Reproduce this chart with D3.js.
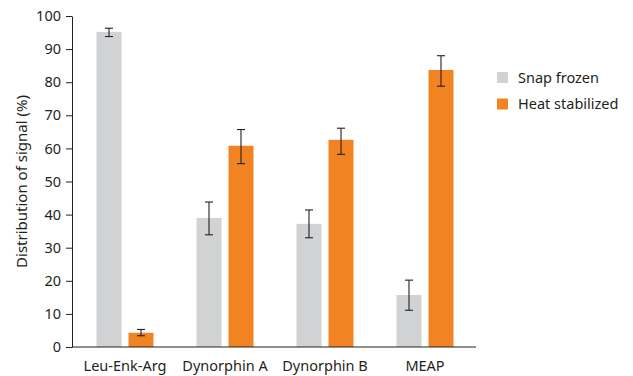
<!DOCTYPE html>
<html>
<head>
<meta charset="utf-8">
<script src="https://cdn.jsdelivr.net/npm/d3@7"></script>
<style>
  body { margin: 0; background: #fff; }
  svg text { font-family: "Noto Sans", sans-serif; fill: #231f20; }
</style>
</head>
<body>
<svg id="chart" width="633" height="376"></svg>
<script>
// peptides on the x axis
var categories = ["Leu-Enk-Arg", "Dynorphin A", "Dynorphin B", "MEAP"];
var seriesNames = ["Snap frozen", "Heat stabilized"];
// mean values (%)
var snapFrozen = [95.2, 39.0, 37.2, 15.7];
var heatStabilized = [4.3, 60.8, 62.6, 83.7];
// error bar ends (low, high)
var snapLow = [93.8, 33.9, 33.0, 11.1];
var snapHigh = [96.3, 43.8, 41.4, 20.2];
var heatLow = [3.4, 55.4, 58.2, 78.8];
var heatHigh = [5.3, 65.7, 66.1, 88.0];
var yTicks = [0, 10, 20, 30, 40, 50, 60, 70, 80, 90, 100];
var colors = ["#d1d2d4", "#f28322"];

const svg = d3.select("#chart")
const axisLeft = 72, axisRight = 476, plotTop = 16, plotBottom = 347

const x = d3.scaleBand()
  .domain(categories)
  .range([75, 475])
  .paddingInner(0)
  .paddingOuter(0)
const xSub = d3.scaleBand()
  .domain(seriesNames)
  .range([0, 57])
  .paddingInner(7 / 32)
const y = d3.scaleLinear()
  .domain([0, 100])
  .range([plotBottom, plotTop])

const rows = categories.map((c, i) => ({
  cat: c,
  vals: [
    {s: seriesNames[0], v: snapFrozen[i], lo: snapLow[i], hi: snapHigh[i], c: colors[0]},
    {s: seriesNames[1], v: heatStabilized[i], lo: heatLow[i], hi: heatHigh[i], c: colors[1]}
  ]
}))

const groups = svg.selectAll("g.grp")
  .data(rows)
  .enter()
  .append("g")
  .attr("class", "grp")
  .attr("transform", d => "translate(" + (x(d.cat) + x.bandwidth() / 2 - 28.5) + ",0)")

groups.selectAll("rect")
  .data(d => d.vals)
  .enter()
  .append("rect")
  .attr("x", d => xSub(d.s))
  .attr("y", d => y(d.v))
  .attr("width", xSub.bandwidth())
  .attr("height", d => y(0) - y(d.v))
  .attr("fill", d => d.c)

// error bars
const eb = groups.selectAll("g.err")
  .data(d => d.vals)
  .enter()
  .append("g")
  .attr("class", "err")
  .attr("stroke", "#231f20")
  .attr("stroke-width", 1.1)
eb.append("line")
  .attr("x1", d => xSub(d.s) + xSub.bandwidth() / 2)
  .attr("x2", d => xSub(d.s) + xSub.bandwidth() / 2)
  .attr("y1", d => y(d.lo))
  .attr("y2", d => y(d.hi))
eb.selectAll("line.cap")
  .data(d => [d, d].map((e, k) => ({e: e, v: k ? e.hi : e.lo})))
  .enter()
  .append("line")
  .attr("class", "cap")
  .attr("x1", d => xSub(d.e.s) + xSub.bandwidth() / 2 - 4)
  .attr("x2", d => xSub(d.e.s) + xSub.bandwidth() / 2 + 4)
  .attr("y1", d => y(d.v))
  .attr("y2", d => y(d.v))

// y axis
const yAxis = d3.axisLeft(y)
  .tickValues(yTicks)
  .tickSize(6)
  .tickPadding(5)
  .tickSizeOuter(0)
const gy = svg.append("g")
  .attr("transform", "translate(" + axisLeft + ",0)")
  .call(yAxis)
gy.selectAll("text").style("font-size", "14.5px")
gy.selectAll("line,path").attr("stroke", "#231f20")

// x axis
const xAxis = d3.axisBottom(x)
  .tickSize(0)
  .tickPadding(14)
const gx = svg.append("g")
  .attr("transform", "translate(0," + plotBottom + ")")
  .call(xAxis)
gx.select("path").attr("d", "M" + axisLeft + ",0H" + axisRight).attr("stroke", "#231f20")
gx.selectAll("text").style("font-size", "14.5px")

svg.append("text")
  .attr("transform", "translate(27," + ((plotTop + plotBottom) / 2) + ") rotate(-90)")
  .attr("text-anchor", "middle")
  .style("font-size", "15px")
  .text("Distribution of signal (%)")

// legend
const legend = svg.selectAll("g.leg")
  .data(seriesNames)
  .enter()
  .append("g")
  .attr("class", "leg")
  .attr("transform", (d, i) => "translate(497," + (72 + i * 26.5) + ")")
legend.append("rect")
  .attr("width", 11)
  .attr("height", 11)
  .attr("fill", (d, i) => colors[i])
legend.append("text")
  .attr("x", 21)
  .attr("y", 10.5)
  .style("font-size", "14.5px")
  .text(d => d)
</script>
</body>
</html>
